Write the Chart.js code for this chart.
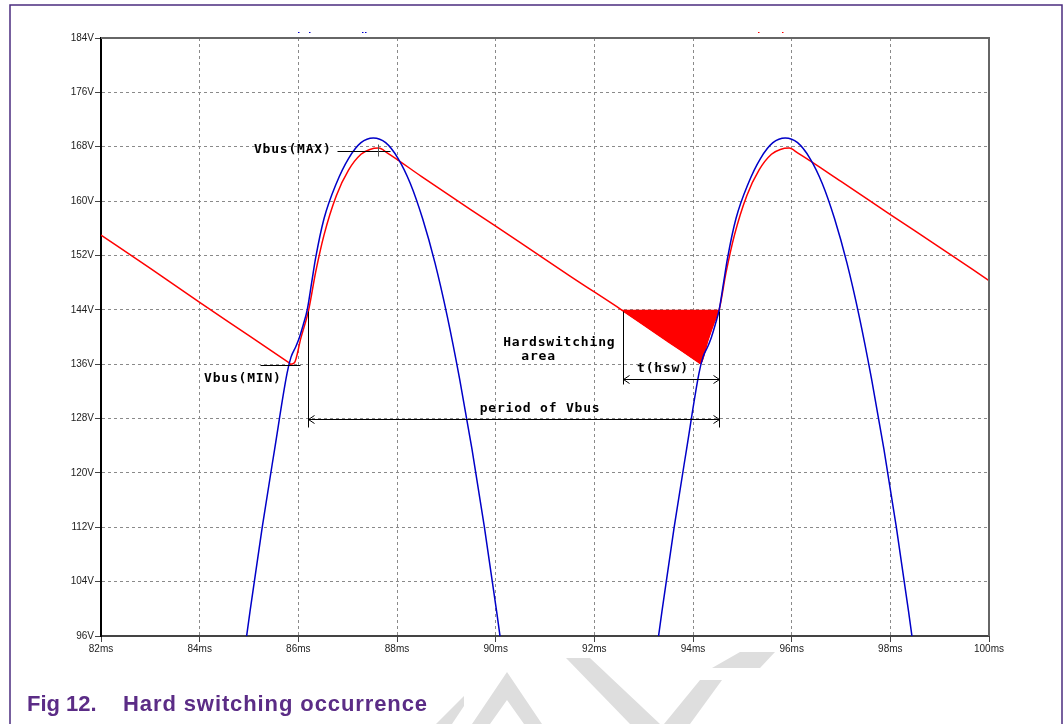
<!DOCTYPE html>
<html>
<head>
<meta charset="utf-8">
<script src="https://cdn.jsdelivr.net/npm/chart.js@4.4.0/dist/chart.umd.min.js"></script>
<style>
  html, body { margin: 0; padding: 0; background: #fff; }
  #wrap { position: relative; width: 1064px; height: 724px; overflow: hidden; }
  #chart { position: absolute; left: 0; top: 0; }
  .caption {
    position: absolute; top: 693px; line-height: 22px;
    font-family: "Liberation Sans", Arial, sans-serif; font-weight: bold;
    font-size: 22px; color: #5b2c86; white-space: nowrap;
  }
</style>
</head>
<body>
<div id="wrap">
  <canvas id="chart" width="1064" height="724"></canvas>
  <div class="caption" style="left:27px">Fig 12.</div>
  <div class="caption" style="left:123px; letter-spacing:0.9px">Hard switching occurrence</div>
</div>
<script>
// time axis (ms) and voltage (V)
const xTicks = [82, 84, 86, 88, 90, 92, 94, 96, 98, 100];
const yTicks = [96, 104, 112, 120, 128, 136, 144, 152, 160, 168, 176, 184];

// Vbus (red)
const redT = [82.0, 83.0, 84.0, 85.0, 85.8, 85.85, 85.92, 86.05, 86.21, 86.35, 86.52, 86.77, 87.02, 87.27, 87.45,
  87.63, 87.8, 88.5, 89.5, 90.5, 91.5, 92.55, 93.5, 94.1, 94.15, 94.3, 94.42, 94.53, 94.67, 94.84, 95.09,
  95.34, 95.59, 95.77, 95.95, 96.12, 97.0, 98.0, 99.0, 100.0];
const redV = [155.0, 150.1, 145.1, 140.2, 136.25, 136.0, 136.2, 139.8, 144.0, 149.5, 155.0, 160.8, 164.6, 166.9, 167.6,
  167.8, 167.1, 163.6, 158.7, 153.9, 149.0, 144.0, 139.3, 136.35, 136.1, 139.5, 142.0, 144.0, 149.5, 155.0, 160.8,
  164.6, 166.9, 167.6, 167.8, 167.1, 162.9, 158.0, 153.2, 148.3];

// rectified line voltage (blue), two half waves
const blueT1 = [84.77, 85.02, 85.27, 85.52, 85.77, 85.85, 85.95, 86.02, 86.1, 86.18, 86.27, 86.35, 86.52, 86.77,
  87.02, 87.27, 87.52, 87.77, 88.02, 88.27, 88.52, 88.77, 89.02, 89.27, 89.52, 89.77, 90.02, 90.27];
const blueV1 = [86.3, 99.6, 112.1, 123.5, 134.6, 137.0, 138.6, 139.9, 141.8, 144.0, 148.0, 151.6, 157.4, 162.6,
  166.3, 168.6, 169.3, 168.6, 166.3, 162.6, 157.4, 150.9, 143.0, 133.8, 123.5, 112.1, 99.6, 86.3];
const blueT2 = [93.12, 93.37, 93.62, 93.87, 94.12, 94.2, 94.3, 94.37, 94.45, 94.53, 94.62, 94.7, 94.87, 95.12,
  95.37, 95.62, 95.87, 96.12, 96.37, 96.62, 96.87, 97.12, 97.37, 97.62, 97.87, 98.12, 98.37, 98.62];
const blueV2 = [86.3, 99.6, 112.1, 123.5, 134.6, 137.0, 138.6, 139.9, 141.8, 144.0, 148.0, 151.6, 157.4, 162.6,
  166.3, 168.6, 169.3, 168.6, 166.3, 162.6, 157.4, 150.9, 143.0, 133.8, 123.5, 112.1, 99.6, 86.3];

// hard switching window (ms) and level (V)
const hswStart = 92.55;
const hswEnd = 94.53;
const hswLevel = 144;

const pts = (ts, vs) => ts.map((t, i) => ({ x: t, y: vs[i] }));
const hswPts = pts(redT, redV).filter(p => p.x >= hswStart && p.x <= hswEnd);

const monoFont = 'bold 13px "DejaVu Sans Mono", monospace';

// page frame, watermark scraps and the LTspice-style notes
const decor = {
  id: 'decor',
  beforeDraw(chart) {
    const ctx = chart.ctx;
    ctx.save();
    ctx.fillStyle = '#dedede';
    const shapes = [
      [[436, 724], [452, 724], [464, 706], [464, 696]],
      [[472, 724], [490, 724], [507, 700], [524, 724], [542, 724], [507, 672]],
      [[566, 658], [590, 658], [660, 724], [630, 724]],
      [[664, 724], [690, 724], [722, 680], [700, 680]],
      [[712, 668], [740, 652], [775, 652], [760, 668]]
    ];
    shapes.forEach(s => {
      ctx.beginPath();
      s.forEach(([px, py], i) => i ? ctx.lineTo(px, py) : ctx.moveTo(px, py));
      ctx.closePath();
      ctx.fill();
    });
    ctx.restore();
  },
  afterDraw(chart) {
    const { ctx, chartArea: a } = chart;
    ctx.save();
    // plot box top/right
    ctx.strokeStyle = '#666';
    ctx.lineWidth = 2;
    ctx.beginPath();
    ctx.moveTo(a.left, a.top);
    ctx.lineTo(a.right, a.top);
    ctx.lineTo(a.right, a.bottom);
    ctx.stroke();
    // outer frame
    ctx.strokeStyle = '#4b2d7f';
    ctx.lineWidth = 1.5;
    ctx.beginPath();
    ctx.moveTo(10, 724);
    ctx.lineTo(10, 5);
    ctx.lineTo(1062, 5);
    ctx.lineTo(1062, 724);
    ctx.stroke();
    // stray trace-label dots above the plot
    ctx.fillStyle = '#0000cc';
    [298, 309, 362, 365].forEach(px => ctx.fillRect(px, 32, 1.5, 1));
    ctx.fillStyle = '#ff0000';
    [758, 782].forEach(px => ctx.fillRect(px, 32, 1.5, 1));
    ctx.restore();
  },
  afterDatasetsDraw(chart) {
    const { ctx, scales: { x, y } } = chart;
    const X = v => x.getPixelForValue(v);
    const Y = v => y.getPixelForValue(v);
    const line = (t1, v1, t2, v2) => {
      ctx.beginPath();
      ctx.moveTo(Math.round(X(t1)) + 0.5, Math.round(Y(v1)) + 0.5);
      ctx.lineTo(Math.round(X(t2)) + 0.5, Math.round(Y(v2)) + 0.5);
      ctx.stroke();
    };
    const arrow = (t1, t2, v) => {
      line(t1, v, t2, v);
      const yy = Math.round(Y(v)) + 0.5;
      const l = Math.round(X(t1)) + 0.5, r = Math.round(X(t2)) + 0.5;
      ctx.beginPath();
      ctx.moveTo(l + 6, yy - 4); ctx.lineTo(l, yy); ctx.lineTo(l + 6, yy + 4);
      ctx.moveTo(r - 6, yy - 4); ctx.lineTo(r, yy); ctx.lineTo(r - 6, yy + 4);
      ctx.stroke();
    };
    const text = (s, t, v, align) => {
      ctx.textAlign = align;
      ctx.fillText(s, X(t), Y(v));
    };
    ctx.save();
    ctx.strokeStyle = '#000';
    ctx.lineWidth = 1;
    ctx.fillStyle = '#000';
    ctx.font = monoFont;
    ctx.letterSpacing = '0.8px';
    ctx.textBaseline = 'middle';

    // Vbus(MAX)
    line(86.78, 167.44, 87.86, 167.44);
    ctx.strokeStyle = '#555';
    line(87.62, 168.4, 87.62, 166.6);
    ctx.strokeStyle = '#000';
    text('Vbus(MAX)', 85.10, 167.6, 'left');

    // Vbus(MIN)
    line(85.22, 135.9, 86.03, 135.9);
    text('Vbus(MIN)', 84.09, 133.9, 'left');

    // period of Vbus
    line(86.2, 143.83, 86.2, 126.76);
    line(94.52, 143.83, 94.52, 126.76);
    arrow(86.2, 94.52, 127.9);
    text('period of Vbus', 90.9, 129.48, 'center');

    // t(hsw)
    line(92.575, 143.83, 92.575, 133.08);
    arrow(92.575, 94.52, 133.85);
    text('t(hsw)', 93.39, 135.4, 'center');

    text('Hardswitching', 91.29, 139.16, 'center');
    text('area', 90.87, 137.1, 'center');
    ctx.restore();
  }
};

const tickFont = { family: '"Liberation Sans", Arial, sans-serif', size: 10 };

new Chart(document.getElementById('chart'), {
  type: 'line',
  data: {
    datasets: [
      {
        data: pts(blueT1, blueV1), borderColor: '#0000c8', borderWidth: 1.5,
        pointRadius: 0, fill: false, order: 0
      },
      {
        data: pts(blueT2, blueV2), borderColor: '#0000c8', borderWidth: 1.5,
        pointRadius: 0, fill: false, order: 0
      },
      {
        data: pts(redT, redV), borderColor: '#ff0000', borderWidth: 1.5,
        pointRadius: 0, fill: false, order: 1
      },
      {
        data: hswPts, borderColor: '#ff0000', borderWidth: 1,
        backgroundColor: '#ff0000', pointRadius: 0,
        fill: { value: hswLevel }, order: 2
      }
    ]
  },
  options: {
    responsive: false,
    animation: false,
    layout: { padding: { left: 0, top: 38, right: 75, bottom: 0 } },
    plugins: { legend: { display: false }, tooltip: { enabled: false } },
    elements: { line: { cubicInterpolationMode: 'monotone' } },
    scales: {
      x: {
        type: 'linear', min: 82, max: 100,
        afterFit: s => { s.height = 88; },
        afterBuildTicks: s => { s.ticks = xTicks.map(v => ({ value: v })); },
        ticks: {
          callback: v => v + 'ms', color: '#222', font: tickFont,
          padding: 1, maxRotation: 0, autoSkip: false
        },
        grid: { color: '#8a8a8a', lineWidth: 1, tickLength: 6, tickColor: '#444', tickBorderDash: [] },
        border: { display: true, color: '#444', width: 2, dash: [3, 3] }
      },
      y: {
        min: 96, max: 184,
        afterFit: s => { s.width = 101; },
        afterBuildTicks: s => { s.ticks = yTicks.map(v => ({ value: v })); },
        ticks: { callback: v => v + 'V', color: '#222', font: tickFont, padding: 1, autoSkip: false },
        grid: { color: '#8a8a8a', lineWidth: 1, tickLength: 6, tickColor: '#444', tickBorderDash: [] },
        border: { display: true, color: '#000', width: 2, dash: [3, 3] }
      }
    }
  },
  plugins: [decor]
});
</script>
</body>
</html>
